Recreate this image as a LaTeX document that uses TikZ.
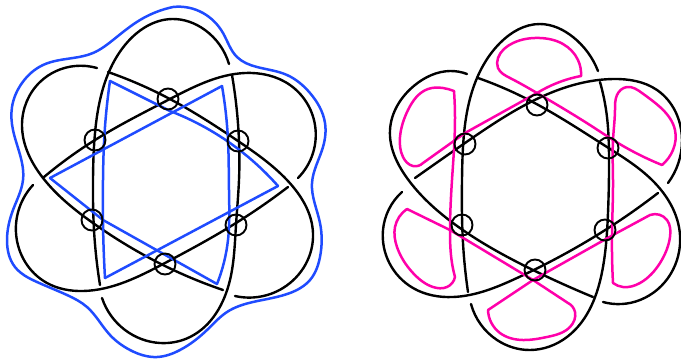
\documentclass[tikz,border=0pt]{standalone}
\usepackage{xcolor}
\usetikzlibrary{hobby}
\definecolor{surfblue}{HTML}{1F4BFF}
\definecolor{surfpink}{HTML}{FF00AA}
\tikzset{
    every picture/.style={line cap=round,line join=round},
    strand/.style={draw=black,line width=2.4pt,use Hobby shortcut},
    crossing/.style={draw=black,circle,line width=1.9pt,minimum size=21pt,inner sep=0pt},
    bluepath/.style={draw=surfblue,line width=2.5pt,use Hobby shortcut},
    pinkpath/.style={draw=surfpink,line width=2.5pt,use Hobby shortcut}
}
\begin{document}
\begin{tikzpicture}[x=1pt,y=-1pt]
  \useasboundingbox (0,0) rectangle (681,360);
  % left diagram: black strands
  \draw[strand] (100,285) .. (94,230) .. (93,180) .. (95,133) .. (100,100) .. (125,45) .. (172,19) .. (205,30) .. (229,64);
  \draw[strand] (232,75) .. (239,141) .. (239,180) .. (236,225) .. (230,280) .. (190,337) .. (160,343) .. (125,330) .. (102,298);
  \draw[strand] (97,68) .. (75,66) .. (40,82) .. (22,125) .. (43,178) .. (93,223) .. (165,266) .. (223,290);
  \draw[strand] (108,72) .. (168,98) .. (238,141) .. (287,180) .. (313,233) .. (283,288) .. (235,296);
  \draw[strand] (44,177) .. (95,140) .. (168,100) .. (245,73) .. (290,85) .. (315,125) .. (298,178);
  \draw[strand] (288,187) .. (236,223) .. (165,263) .. (83,291) .. (47,283) .. (16,233) .. (33,185);
  % left diagram: blue curves
  \draw[bluepath] (173,7) .. (203,13) .. (223,33) .. (237,57) .. (257,67) .. (287,75) .. (310,93) .. (325,123) .. (323,147) .. (312,183) .. (320,223) .. (320,257) .. (310,280) .. (290,293) .. (253,302) .. (227,312) .. (207,330) .. (180,350) .. (157,357) .. (130,350) .. (110,335) .. (87,307) .. (67,295) .. (37,282) .. (15,267) .. (7,240) .. (13,210) .. (23,180) .. (13,130) .. (12,107) .. (22,83) .. (43,65) .. (73,58) .. (93,53) .. (113,40) .. (140,20) .. (173,7);
  \draw[bluepath] (110,81) -- (170,111) .. (230,143) .. (278,186);
  \draw[bluepath] (278,186) -- (105,278);
  \draw[bluepath] (105,278) .. (103,223) .. (103,180) .. (104,143) .. (110,81);
  \draw[bluepath] (222,86) -- (50,178);
  \draw[bluepath] (50,178) -- (103,220) -- (217,284);
  \draw[bluepath] (217,284) .. (228,240) .. (229,190) .. (228,140) .. (222,86);
  % right diagram: black strands
  \draw[strand] (468,292) .. (463,243) .. (462,180) .. (463,147) .. (468,107) .. (500,43) .. (540,24) .. (573,37) .. (598,71);
  \draw[strand] (600,82) .. (607,117) .. (609,157) .. (608,213) .. (603,267) .. (567,337) .. (530,350) .. (497,340) .. (471,304);
  \draw[strand] (467,74) .. (450,71) .. (415,85) .. (390,130) .. (407,178) .. (453,223) .. (533,270) .. (593,297);
  \draw[strand] (478,78) .. (525,98) .. (607,147) .. (652,180) .. (680,235) .. (640,300) .. (603,302);
  \draw[strand] (415,178) .. (465,143) .. (525,105) .. (613,79) .. (657,90) .. (682,140) .. (668,183);
  \draw[strand] (658,193) .. (613,225) .. (517,278) .. (453,297) .. (413,288) .. (383,230) .. (402,192);
  % right diagram: pink curves
  \draw[pinkpath] (581,76) .. (578,60) .. (563,44) .. (540,38) .. (513,43) .. (498,58) .. (498,68) .. (510,78) .. (537,93) .. (593,127) .. (618,143) .. (662,165);
  \draw[pinkpath] (662,165) .. (673,150) .. (675,130) .. (660,107) .. (642,93) .. (627,87) .. (617,95) .. (615,110) .. (613,140) .. (613,180) .. (612,235) .. (613,283);
  \draw[pinkpath] (613,283) .. (623,287) .. (640,283) .. (660,263) .. (670,237) .. (667,220) .. (650,215) -- (613,235) -- (533,280) -- (488,310);
  \draw[pinkpath] (488,310) .. (500,333) .. (523,340) .. (547,337) .. (570,327) .. (575,312) .. (568,303) -- (533,280) -- (450,230) -- (407,209);
  \draw[pinkpath] (407,209) .. (395,227) .. (397,247) .. (413,273) .. (433,287) .. (447,287) .. (455,277);
  \draw[pinkpath] (455,277) .. (452,263) .. (450,230) .. (452,180) .. (455,117) .. (454,91);
  \draw[pinkpath] (454,91) .. (443,88) .. (428,89) .. (408,110) .. (400,137) .. (403,157) .. (413,166) .. (423,163) -- (465,133) -- (537,93) .. (557,83) .. (581,76);
  % crossing circles
  \foreach \n/\p in {a/{168,99},b/{95,140},c/{238,141},d/{92,220},e/{236,225},f/{165,264},g/{537,105},h/{465,144},i/{608,148},j/{462,225},k/{605,230},l/{535,270}} {
    \node[crossing] (\n) at (\p) {};
  }
\end{tikzpicture}
\end{document}
